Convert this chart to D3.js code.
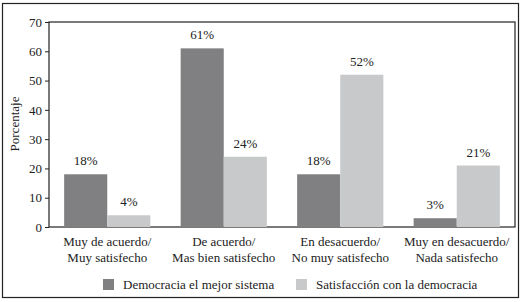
<!DOCTYPE html>
<html lang="es">
<head>
<meta charset="UTF-8">
<title>Democracia</title>
<script src="https://d3js.org/d3.v7.min.js"></script>
<style>
  body { margin: 0; background: #fff; }
  text { font-family: "Liberation Serif", "DejaVu Serif", serif; fill: #222; }
</style>
</head>
<body>
<svg width="524" height="302"></svg>
<script>
  // datos
  const categories = [
    ["Muy de acuerdo/", "Muy satisfecho"],
    ["De acuerdo/", "Mas bien satisfecho"],
    ["En desacuerdo/", "No muy satisfecho"],
    ["Muy en desacuerdo/", "Nada satisfecho"]
  ];
  const seriesNames = ["Democracia el mejor sistema", "Satisfacción con la democracia"];
  const democracia = [18, 61, 18, 3];
  const satisfaccion = [4, 24, 52, 21];
  const yTicks = [0, 10, 20, 30, 40, 50, 60, 70];

  const colors = ["#808083", "#c8c9cb"];
  const svg = d3.select("svg");
  const margin = { top: 21, right: 9, bottom: 75, left: 49 };
  const W = 524, H = 302;

  // marco exterior
  svg.append("rect").attr("x", 2.5).attr("y", 3.5).attr("width", 516).attr("height", 294)
    .attr("fill", "none").attr("stroke", "#222").attr("stroke-width", 1.2);

  const x0 = d3.scaleBand().domain(d3.range(categories.length))
    .range([margin.left, W - margin.right]).paddingInner(0.26).paddingOuter(0.13);
  const x1 = d3.scaleBand().domain([0, 1]).range([0, x0.bandwidth()]);
  const y = d3.scaleLinear().domain([0, 70]).range([227, margin.top + 1]);

  // marco del gráfico
  svg.append("rect").attr("x", margin.left).attr("y", y(70))
    .attr("width", W - margin.right - margin.left).attr("height", y(0) - y(70))
    .attr("fill", "none").attr("stroke", "#222").attr("stroke-width", 1.2);

  const series = [democracia, satisfaccion];
  series.forEach((vals, s) => {
    svg.selectAll(".bar" + s).data(vals).enter().append("rect")
      .attr("x", (d, i) => x0(i) + x1(s))
      .attr("y", d => y(d))
      .attr("width", x1.bandwidth())
      .attr("height", d => y(0) - y(d))
      .attr("fill", colors[s]);
    svg.selectAll(".lab" + s).data(vals).enter().append("text")
      .attr("x", (d, i) => x0(i) + x1(s) + x1.bandwidth() / 2)
      .attr("y", d => y(d) - 9)
      .attr("text-anchor", "middle").attr("font-size", 13)
      .text(d => d + "%");
  });

  // eje y
  const yAxis = svg.append("g").attr("transform", `translate(${margin.left},0)`)
    .call(d3.axisLeft(y).tickValues(yTicks).tickSize(4).tickSizeOuter(0));
  yAxis.select(".domain").remove();
  yAxis.selectAll("line").attr("stroke", "#222");
  yAxis.selectAll("text").attr("font-size", 13).attr("font-family", "Liberation Serif").attr("fill", "#222");

  svg.append("text").attr("transform", "translate(19,124) rotate(-90)")
    .attr("text-anchor", "middle").attr("font-size", 13).text("Porcentaje");

  // etiquetas de categoría
  categories.forEach((lines, i) => {
    const t = svg.append("text").attr("x", x0(i) + x0.bandwidth() / 2).attr("y", 246)
      .attr("text-anchor", "middle").attr("font-size", 13);
    lines.forEach((l, j) => t.append("tspan").attr("x", x0(i) + x0.bandwidth() / 2)
      .attr("dy", j === 0 ? 0 : 16).text(l));
  });

  // leyenda
  const legendX = [103, 296];
  seriesNames.forEach((n, s) => {
    svg.append("rect").attr("x", legendX[s]).attr("y", 279).attr("width", 11).attr("height", 11)
      .attr("fill", colors[s]);
    svg.append("text").attr("x", legendX[s] + 20).attr("y", 289).attr("font-size", 13).text(n);
  });
</script>
</body>
</html>
